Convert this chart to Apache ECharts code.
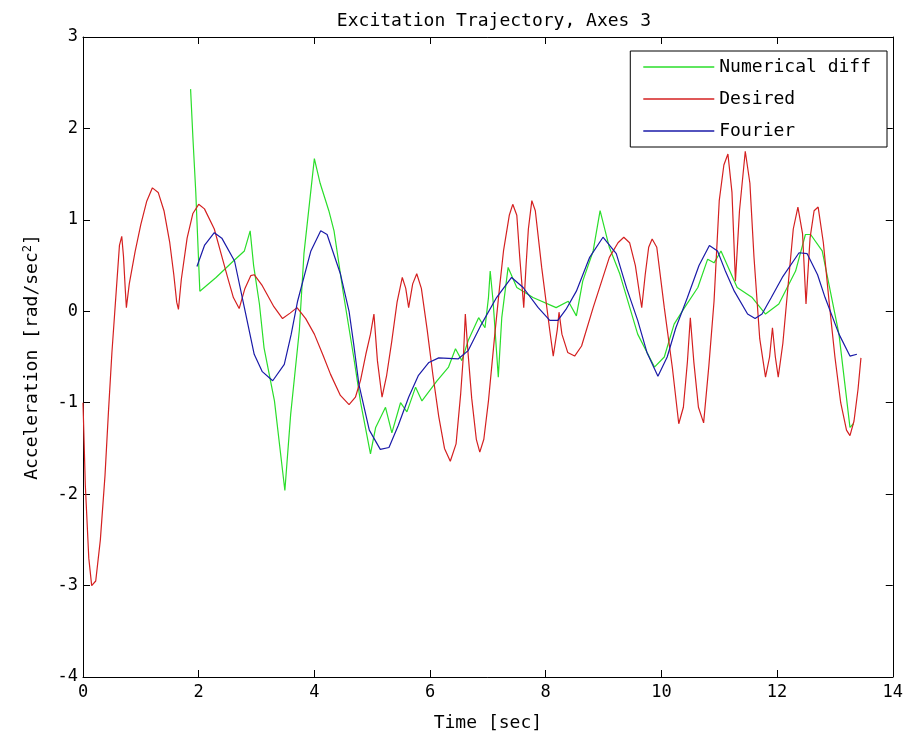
<!DOCTYPE html>
<html>
<head>
<meta charset="utf-8">
<script src="https://cdn.jsdelivr.net/npm/echarts@6/dist/echarts.min.js"></script>
<style>
html,body{margin:0;padding:0;background:#fff;overflow:hidden;}
#chart{width:906px;height:738px;}
</style>
</head>
<body>
<div id="chart"></div>
<script>
// ---- data ----
const xTicks = [0, 2, 4, 6, 8, 10, 12, 14];
const yTicks = [-4, -3, -2, -1, 0, 1, 2, 3];

const desiredX = [0, 0.04, 0.1, 0.15, 0.22, 0.3, 0.38, 0.44, 0.5, 0.55, 0.6, 0.63, 0.67, 0.7, 0.73, 0.75, 0.8, 0.9, 1.0, 1.1, 1.2, 1.3, 1.4, 1.5, 1.57, 1.62, 1.65, 1.7, 1.8, 1.9, 2.0, 2.1, 2.27, 2.4, 2.5, 2.6, 2.7, 2.8, 2.9, 2.96, 3.1, 3.3, 3.45, 3.58, 3.7, 3.85, 4.0, 4.15, 4.28, 4.45, 4.6, 4.71, 4.8, 4.89, 4.97, 5.03, 5.09, 5.17, 5.25, 5.34, 5.43, 5.52, 5.58, 5.63, 5.7, 5.77, 5.85, 5.95, 6.05, 6.15, 6.25, 6.35, 6.45, 6.53, 6.58, 6.61, 6.65, 6.72, 6.8, 6.86, 6.93, 7.01, 7.12, 7.2, 7.27, 7.37, 7.43, 7.5, 7.55, 7.6, 7.62, 7.66, 7.7, 7.76, 7.82, 7.93, 8.07, 8.13, 8.2, 8.23, 8.28, 8.38, 8.5, 8.62, 8.82, 9.1, 9.25, 9.35, 9.45, 9.55, 9.62, 9.66, 9.72, 9.78, 9.84, 9.92, 10.05, 10.19, 10.3, 10.38, 10.45, 10.5, 10.56, 10.64, 10.73, 10.82, 10.91, 11.0, 11.08, 11.15, 11.22, 11.28, 11.35, 11.45, 11.53, 11.6, 11.7, 11.8, 11.87, 11.92, 11.97, 12.02, 12.1, 12.2, 12.28, 12.36, 12.44, 12.5, 12.57, 12.64, 12.71, 12.8, 12.9, 13.0, 13.1, 13.2, 13.26, 13.33, 13.4, 13.45];
const desiredY = [-1.0, -1.9, -2.7, -3.0, -2.95, -2.5, -1.8, -1.1, -0.45, 0.0, 0.45, 0.72, 0.82, 0.6, 0.25, 0.04, 0.3, 0.65, 0.95, 1.2, 1.35, 1.3, 1.1, 0.75, 0.4, 0.1, 0.02, 0.35, 0.8, 1.07, 1.17, 1.12, 0.9, 0.6, 0.37, 0.15, 0.03, 0.25, 0.39, 0.4, 0.28, 0.05, -0.08, -0.02, 0.04, -0.08, -0.25, -0.48, -0.69, -0.92, -1.02, -0.94, -0.75, -0.47, -0.25, -0.03, -0.54, -0.94, -0.7, -0.32, 0.1, 0.37, 0.25, 0.04, 0.3, 0.41, 0.25, -0.2, -0.7, -1.15, -1.5, -1.64, -1.45, -0.9, -0.45, -0.03, -0.4, -0.95, -1.4, -1.54, -1.4, -0.98, -0.25, 0.25, 0.66, 1.05, 1.17, 1.05, 0.6, 0.2, 0.04, 0.5, 0.9, 1.21, 1.1, 0.48, -0.21, -0.49, -0.2, -0.01, -0.25, -0.45, -0.49, -0.38, 0.04, 0.59, 0.75, 0.81, 0.75, 0.5, 0.2, 0.04, 0.4, 0.7, 0.79, 0.7, 0.04, -0.62, -1.23, -1.05, -0.55, -0.07, -0.55, -1.05, -1.22, -0.6, 0.11, 1.21, 1.6, 1.72, 1.3, 0.33, 1.1, 1.75, 1.4, 0.6, -0.3, -0.72, -0.5, -0.18, -0.5, -0.72, -0.35, 0.35, 0.9, 1.14, 0.85, 0.08, 0.8, 1.1, 1.14, 0.75, 0.1, -0.5, -1.0, -1.3, -1.36, -1.2, -0.85, -0.51];

const numDiffX = [1.86, 1.9, 1.95, 2.02, 2.3, 2.6, 2.79, 2.89, 2.95, 3.05, 3.13, 3.31, 3.49, 3.59, 3.74, 3.82, 4.0, 4.1, 4.25, 4.34, 4.5, 4.68, 4.8, 4.97, 5.06, 5.23, 5.34, 5.49, 5.6, 5.75, 5.86, 6.12, 6.32, 6.44, 6.55, 6.66, 6.84, 6.95, 7.01, 7.04, 7.09, 7.18, 7.24, 7.35, 7.5, 7.78, 8.18, 8.39, 8.53, 8.64, 8.82, 8.94, 9.1, 9.28, 9.59, 9.88, 10.05, 10.22, 10.4, 10.63, 10.8, 10.91, 11.03, 11.31, 11.57, 11.8, 12.03, 12.32, 12.49, 12.58, 12.78, 13.07, 13.26, 13.32];
const numDiffY = [2.43, 1.9, 1.3, 0.22, 0.37, 0.55, 0.66, 0.88, 0.5, 0.08, -0.4, -0.98, -1.96, -1.13, -0.21, 0.63, 1.67, 1.4, 1.1, 0.88, 0.2, -0.5, -1.0, -1.56, -1.27, -1.05, -1.33, -1.0, -1.1, -0.83, -0.98, -0.76, -0.61, -0.41, -0.54, -0.32, -0.07, -0.18, 0.15, 0.44, 0.11, -0.72, -0.07, 0.48, 0.26, 0.15, 0.04, 0.11, -0.05, 0.33, 0.66, 1.1, 0.7, 0.41, -0.25, -0.61, -0.5, -0.14, 0.04, 0.26, 0.57, 0.53, 0.66, 0.26, 0.15, -0.03, 0.08, 0.44, 0.84, 0.84, 0.66, -0.25, -1.27, -1.23];

const fourierX = [1.97, 2.1, 2.27, 2.4, 2.62, 2.79, 2.96, 3.1, 3.28, 3.48, 3.6, 3.71, 3.94, 4.11, 4.22, 4.45, 4.6, 4.68, 4.77, 4.95, 5.14, 5.29, 5.45, 5.63, 5.8, 5.98, 6.15, 6.49, 6.66, 6.89, 7.15, 7.41, 7.61, 7.87, 8.07, 8.21, 8.35, 8.53, 8.76, 8.99, 9.22, 9.4, 9.59, 9.75, 9.94, 10.1, 10.25, 10.45, 10.65, 10.83, 10.97, 11.1, 11.26, 11.49, 11.62, 11.74, 11.9, 12.09, 12.38, 12.52, 12.7, 12.83, 13.07, 13.26, 13.38];
const fourierY = [0.49, 0.72, 0.86, 0.8, 0.55, 0.04, -0.47, -0.66, -0.76, -0.58, -0.25, 0.11, 0.66, 0.88, 0.84, 0.41, 0.0, -0.36, -0.8, -1.3, -1.51, -1.49, -1.25, -0.94, -0.7, -0.56, -0.51, -0.52, -0.43, -0.14, 0.15, 0.37, 0.26, 0.04, -0.1, -0.1, 0.02, 0.22, 0.59, 0.81, 0.63, 0.25, -0.1, -0.45, -0.71, -0.5, -0.18, 0.15, 0.5, 0.72, 0.66, 0.45, 0.22, -0.03, -0.08, -0.03, 0.15, 0.37, 0.64, 0.63, 0.4, 0.15, -0.25, -0.49, -0.47];

// ---- build ----
const zip = (xs, ys) => xs.map((x, i) => [x, ys[i]]);
const FONT = 'DejaVu Sans Mono';
const chart = echarts.init(document.getElementById('chart'), null, {renderer: 'canvas'});

const axisCommon = {
  axisLine: {show: true, onZero: false, lineStyle: {color: '#000', width: 1}},
  axisTick: {show: true, inside: true, length: 7, lineStyle: {color: '#000'}},
  splitLine: {show: false}
};

chart.setOption({
  animation: false,
  backgroundColor: '#fff',
  title: {
    text: 'Excitation Trajectory, Axes 3',
    left: 489, top: 7, textAlign: 'center',
    textStyle: {fontFamily: FONT, fontSize: 18, fontWeight: 'normal', color: '#000'}
  },
  grid: {left: 83, right: 10, top: 37, bottom: 61, containLabel: false},
  legend: {
    orient: 'vertical', right: 19, top: 51,
    backgroundColor: '#fff', borderColor: '#000', borderWidth: 1,
    padding: [6, 16, 6, 13],
    itemWidth: 71, itemHeight: 1.5, itemGap: 12, icon: 'rect',
    textStyle: {fontFamily: FONT, fontSize: 18, color: '#000', lineHeight: 20},
    data: ['Numerical diff', 'Desired', 'Fourier']
  },
  xAxis: [
    Object.assign({
      type: 'value', min: xTicks[0], max: xTicks[xTicks.length - 1], interval: 2,
      name: 'Time [sec]', nameLocation: 'middle', nameGap: 37,
      nameTextStyle: {fontFamily: FONT, fontSize: 18, color: '#000'},
      axisLabel: {fontFamily: FONT, fontSize: 17, color: '#000', margin: 7}
    }, axisCommon),
    Object.assign({
      type: 'value', position: 'top', min: xTicks[0], max: xTicks[xTicks.length - 1], interval: 2,
      axisLabel: {show: false}
    }, axisCommon)
  ],
  yAxis: [
    Object.assign({
      type: 'value', min: yTicks[0], max: yTicks[yTicks.length - 1], interval: 1,
      name: '{a|Acceleration [rad/sec}{s|2}{a|]}', nameLocation: 'middle', nameGap: 40, nameRotate: 90,
      nameTextStyle: {
        fontFamily: FONT, fontSize: 18, color: '#000',
        rich: {
          a: {fontFamily: FONT, fontSize: 18, color: '#000'},
          s: {fontFamily: FONT, fontSize: 12, color: '#000', verticalAlign: 'top', padding: [0, 0, 9, 0]}
        }
      },
      axisLabel: {fontFamily: FONT, fontSize: 17, color: '#000', margin: 5}
    }, axisCommon),
    Object.assign({
      type: 'value', position: 'right', min: yTicks[0], max: yTicks[yTicks.length - 1], interval: 1,
      axisLabel: {show: false}
    }, axisCommon)
  ],
  series: [
    {name: 'Numerical diff', type: 'line', xAxisIndex: 0, yAxisIndex: 0, showSymbol: false, symbol: 'none',
     data: zip(numDiffX, numDiffY), color: '#2ade2a', lineStyle: {width: 1.2, color: '#2ade2a'}},
    {name: 'Desired', type: 'line', xAxisIndex: 0, yAxisIndex: 0, showSymbol: false, symbol: 'none',
     data: zip(desiredX, desiredY), color: '#d42020', lineStyle: {width: 1.2, color: '#d42020'}},
    {name: 'Fourier', type: 'line', xAxisIndex: 0, yAxisIndex: 0, showSymbol: false, symbol: 'none',
     data: zip(fourierX, fourierY), color: '#1a1aa8', lineStyle: {width: 1.2, color: '#1a1aa8'}}
  ]
});
</script>
</body>
</html>
